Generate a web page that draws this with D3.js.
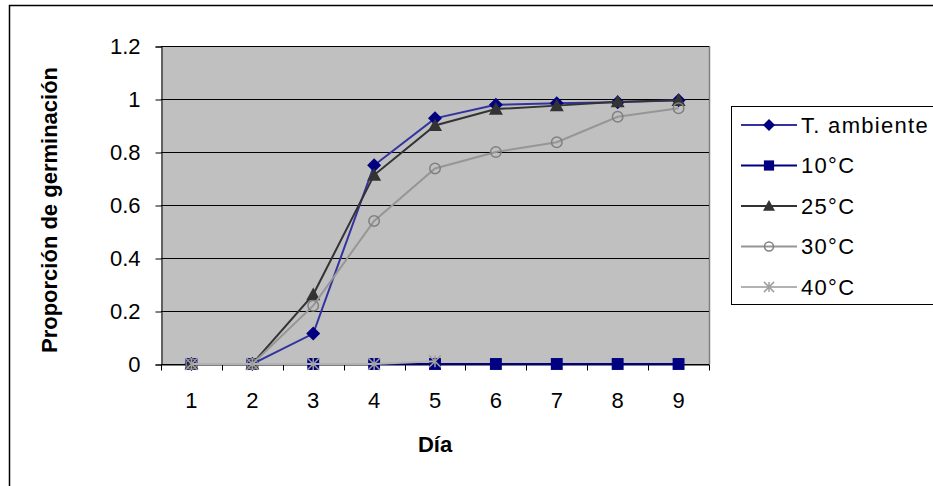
<!DOCTYPE html>
<html>
<head>
<meta charset="utf-8">
<script src="https://cdn.jsdelivr.net/npm/d3@7"></script>
<style>
  body { margin: 0; background: #fff; }
  text { font-family: "Liberation Sans", Arial, sans-serif; fill: #000; }
  .tick-label { font-size: 22px; }
  .axis-title { font-size: 22px; font-weight: bold; }
  .legend-text { font-size: 22px; letter-spacing: 1.3px; }
</style>
</head>
<body>
<div id="wrapper"></div>
<script>
// 1. Data

const days = [1, 2, 3, 4, 5, 6, 7, 8, 9]
const yTicks = [0, 0.2, 0.4, 0.6, 0.8, 1, 1.2]

const seriesNames = ["T. ambiente", "10°C", "25°C", "30°C", "40°C"]
const tAmbiente = [0, 0, 0.115, 0.75, 0.927, 0.978, 0.984, 0.988, 0.995]
const t10 = [0, 0, 0, 0, 0, 0, 0, 0, 0]
const t25 = [0, 0, 0.262, 0.713, 0.9, 0.962, 0.975, 0.99, 0.995]
const t30 = [0, 0, 0.22, 0.54, 0.738, 0.8, 0.837, 0.933, 0.965]
const t40 = [0, 0, 0, 0, 0.01]

const seriesValues = [tAmbiente, t10, t25, t30, t40]

const styles = [
  { line: "#3333a0", fill: "#000080", stroke: "#000080", shape: "diamond" },
  { line: "#000080", fill: "#000080", stroke: "#000080", shape: "square" },
  { line: "#333333", fill: "#333333", stroke: "#333333", shape: "triangle" },
  { line: "#969696", fill: "none", stroke: "#808080", shape: "circle" },
  { line: "#b2b2b2", fill: "none", stroke: "#a0a0a0", shape: "asterisk" },
]

// 2. Dimensions

const dimensions = {
  width: 933,
  height: 486,
  plot: { left: 161, top: 46, right: 709, bottom: 364 },
}

// 3. Canvas

const svg = d3.select("#wrapper")
  .append("svg")
    .attr("width", dimensions.width)
    .attr("height", dimensions.height)

// outer chart border (extends past the right and bottom edges)
svg.append("rect")
    .attr("x", 9.5)
    .attr("y", 5.5)
    .attr("width", 1000)
    .attr("height", 1000)
    .attr("fill", "#fff")
    .attr("stroke", "#000")
    .attr("stroke-width", 1.5)

// 4. Scales

const xScale = d3.scaleBand()
  .domain(days)
  .range([dimensions.plot.left, dimensions.plot.right])

const yScale = d3.scaleLinear()
  .domain([0, 1.2])
  .range([dimensions.plot.bottom, dimensions.plot.top])

const xCenter = d => xScale(d) + xScale.bandwidth() / 2

// plot area
svg.append("rect")
    .attr("x", dimensions.plot.left)
    .attr("y", dimensions.plot.top)
    .attr("width", dimensions.plot.right - dimensions.plot.left)
    .attr("height", dimensions.plot.bottom - dimensions.plot.top)
    .attr("fill", "#c0c0c0")

svg.append("line")
    .attr("x1", dimensions.plot.right + 0.5)
    .attr("x2", dimensions.plot.right + 0.5)
    .attr("y1", dimensions.plot.top)
    .attr("y2", dimensions.plot.bottom)
    .attr("stroke", "#808080")
    .attr("stroke-width", 1.5)

// gridlines
svg.append("g")
  .selectAll("line")
  .data(yTicks)
  .join("line")
    .attr("x1", dimensions.plot.left)
    .attr("x2", dimensions.plot.right)
    .attr("y1", d => Math.round(yScale(d)) + 0.5)
    .attr("y2", d => Math.round(yScale(d)) + 0.5)
    .attr("stroke", "#000")
    .attr("stroke-width", 1)

// 5. Axes

const yAxis = d3.axisLeft(yScale)
  .tickValues(yTicks)
  .tickSize(6)
  .tickPadding(15)
  .tickFormat(d => d3.format("~g")(d))

svg.append("g")
    .attr("transform", `translate(${dimensions.plot.left + 0.5}, 0.5)`)
    .call(yAxis)
    .call(g => g.selectAll("text").attr("class", "tick-label").attr("font-size", null).attr("font-family", null))
    .call(g => g.select(".domain").attr("stroke", "#000"))

const xAxis = d3.axisBottom(xScale)
  .tickSize(0)
  .tickPadding(28)

const xAxisGroup = svg.append("g")
    .attr("transform", `translate(0, ${dimensions.plot.bottom + 0.5})`)
    .call(xAxis)
    .call(g => g.selectAll("text").attr("class", "tick-label").attr("font-size", null).attr("font-family", null))
    .call(g => g.select(".domain").attr("stroke", "#000"))

// ticks between the categories
xAxisGroup.append("g")
  .selectAll("line")
  .data(days.concat([null]))
  .join("line")
    .attr("x1", (d, i) => Math.round(i < days.length ? xScale(d) : dimensions.plot.right) + 0.5)
    .attr("x2", (d, i) => Math.round(i < days.length ? xScale(d) : dimensions.plot.right) + 0.5)
    .attr("y1", 0)
    .attr("y2", 6)
    .attr("stroke", "#000")

// axis titles
svg.append("text")
    .attr("class", "axis-title")
    .attr("x", (dimensions.plot.left + dimensions.plot.right) / 2)
    .attr("y", 452)
    .attr("text-anchor", "middle")
    .text("Día")

svg.append("text")
    .attr("class", "axis-title")
    .attr("transform", `translate(57, ${(dimensions.plot.top + dimensions.plot.bottom) / 2 + 5}) rotate(-90)`)
    .attr("text-anchor", "middle")
    .text("Proporción de germinación")

// 6. Lines and markers

const lineGenerator = d3.line()
  .x((d, i) => xCenter(days[i]))
  .y(d => yScale(d))

function drawMarker(sel, style, size) {
  const s = size
  if (style.shape === "diamond") {
    sel.append("path")
      .attr("d", `M0,${-s}L${s},0L0,${s}L${-s},0Z`)
      .attr("fill", style.fill)
  } else if (style.shape === "square") {
    sel.append("rect")
      .attr("x", -s * 0.85).attr("y", -s * 0.85)
      .attr("width", s * 1.7).attr("height", s * 1.7)
      .attr("fill", style.fill)
  } else if (style.shape === "triangle") {
    sel.append("path")
      .attr("d", `M0,${-s}L${s},${s * 0.8}L${-s},${s * 0.8}Z`)
      .attr("fill", style.fill)
  } else if (style.shape === "circle") {
    sel.append("circle")
      .attr("r", s * 0.75)
      .attr("fill", "none")
      .attr("stroke", style.stroke)
      .attr("stroke-width", 1.5)
  } else {
    const r = s * 0.85
    sel.append("path")
      .attr("d", `M${-r},${-r}L${r},${r}M${-r},${r}L${r},${-r}M0,${-r}L0,${r}`)
      .attr("stroke", style.stroke)
      .attr("stroke-width", 1.5)
      .attr("fill", "none")
  }
}

seriesValues.forEach((values, k) => {
  const style = styles[k]
  const group = svg.append("g")
  group.append("path")
    .attr("d", lineGenerator(values))
    .attr("fill", "none")
    .attr("stroke", style.line)
    .attr("stroke-width", 2)

  group.selectAll(".marker")
    .data(values)
    .join("g")
      .attr("class", "marker")
      .attr("transform", (d, i) => `translate(${xCenter(days[i])}, ${yScale(d)})`)
      .each(function() { drawMarker(d3.select(this), style, 7) })
})

// 7. Legend

const legend = svg.append("g")

legend.append("rect")
    .attr("x", 731.5)
    .attr("y", 106.5)
    .attr("width", 300)
    .attr("height", 198)
    .attr("fill", "#fff")
    .attr("stroke", "#000")

const legendY = d3.scalePoint()
  .domain(seriesNames)
  .range([125, 287])

const legendItems = legend.selectAll(".legend-item")
  .data(seriesNames)
  .join("g")
    .attr("class", "legend-item")
    .attr("transform", d => `translate(0, ${legendY(d)})`)

legendItems.append("line")
    .attr("x1", 741)
    .attr("x2", 797)
    .attr("stroke", (d, i) => styles[i].line)
    .attr("stroke-width", 2)

legendItems.append("g")
    .attr("transform", "translate(769, 0)")
    .each(function(d, i) { drawMarker(d3.select(this), styles[i], 6) })

legendItems.append("text")
    .attr("class", "legend-text")
    .attr("x", 801)
    .attr("dy", "0.36em")
    .text(d => d)
</script>
</body>
</html>
